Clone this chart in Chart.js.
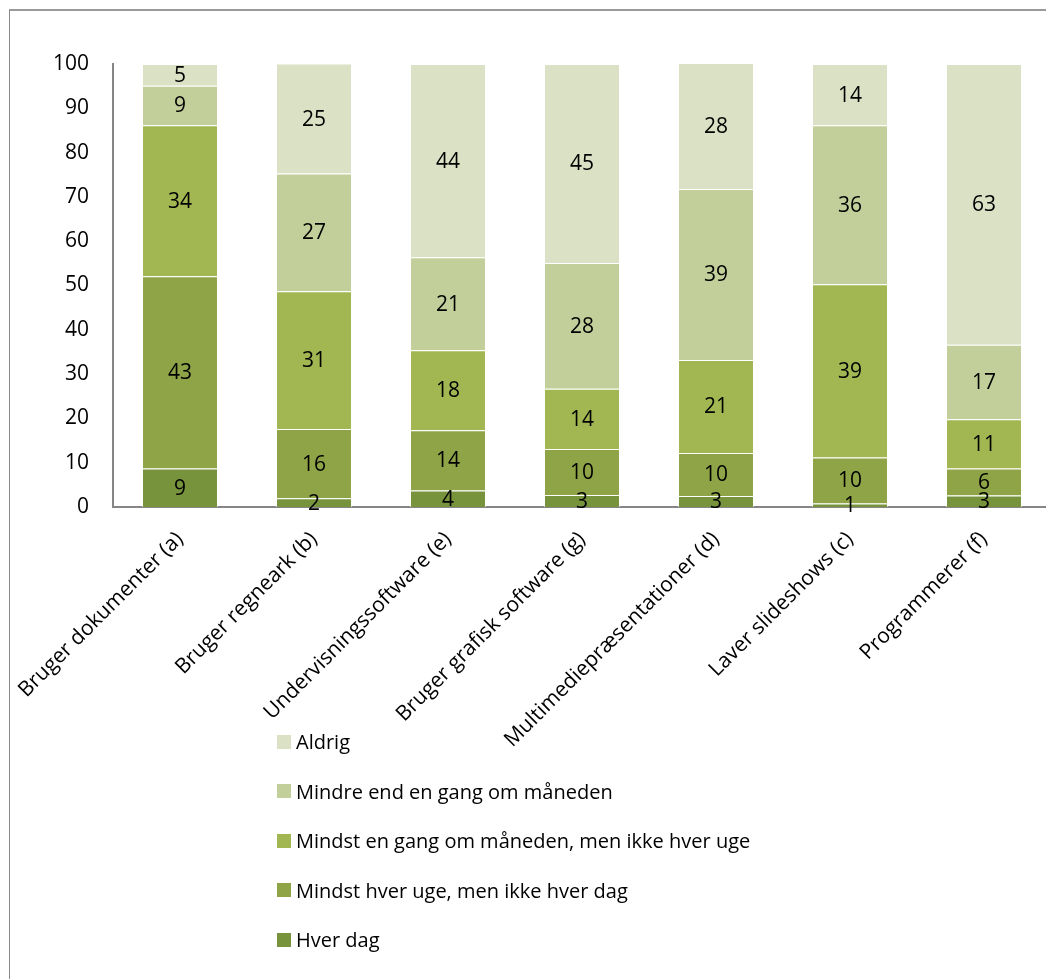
<!DOCTYPE html>
<html>
<head>
<meta charset="utf-8">
<script src="https://cdn.jsdelivr.net/npm/chart.js@4.4.0/dist/chart.umd.min.js"></script>
<style>
  html, body { margin: 0; padding: 0; background: #fff; overflow: hidden; }
  #wrap { position: relative; width: 1046px; height: 979px; overflow: hidden; }
  #frame { position: absolute; left: 9px; top: 9px; width: 2000px; height: 2000px;
           border-left: 1px solid #8a8a8a; border-top: 2px solid #9a9a9a; }
  #chart { position: absolute; left: 0; top: 0; }
  #legend { position: absolute; left: 277px; top: 717px; font: 20px "Open Sans", sans-serif; color: #000; }
  .leg-item { height: 49.5px; display: flex; align-items: center; }
  .leg-box { width: 14px; height: 14px; margin-right: 5px; }
</style>
</head>
<body>
<div id="wrap">
  <div id="frame"></div>
  <canvas id="chart" width="1060" height="979"></canvas>
  <div id="legend"></div>
</div>
<script>
(() => {
  // Categories (x axis)
  const categories = [
    'Bruger dokumenter (a)', 'Bruger regneark (b)', 'Undervisningssoftware (e)',
    'Bruger grafisk software (g)', 'Multimediepræsentationer (d)',
    'Laver slideshows (c)', 'Programmerer (f)'
  ];

  // Series, bottom to top of the stack
  const seriesNames = [
    'Hver dag',
    'Mindst hver uge, men ikke hver dag',
    'Mindst en gang om måneden, men ikke hver uge',
    'Mindre end en gang om måneden',
    'Aldrig'
  ];
  const hverDag      = [8.7, 2.0, 3.7, 2.7, 2.5, 0.8, 2.6];
  const hverUge      = [43.4, 15.6, 13.6, 10.4, 9.7, 10.4, 6.1];
  const hverMaaned   = [34.1, 31.1, 18.1, 13.6, 21.0, 39.1, 11.1];
  const mindreMaaned = [8.9, 26.6, 21.0, 28.4, 38.6, 35.9, 16.8];
  const aldrig       = [4.9, 24.8, 43.6, 44.9, 28.4, 13.8, 63.4];

  const colors = ['#77933c', '#8fa447', '#a2b652', '#c3cf9a', '#dae1c4'];

  const yTicks = [0, 10, 20, 30, 40, 50, 60, 70, 80, 90, 100];

  const FONT = { family: '"Open Sans", sans-serif', size: 21 };

  // Value labels in the middle of every segment
  const valueLabels = {
    id: 'valueLabels',
    afterDatasetsDraw(chart) {
      const ctx = chart.ctx;
      const area = chart.chartArea;
      ctx.save();
      ctx.font = `${FONT.size}px ${FONT.family}`;
      ctx.fillStyle = '#000';
      ctx.textAlign = 'center';
      ctx.textBaseline = 'middle';
      chart.data.datasets.forEach((ds, i) => {
        chart.getDatasetMeta(i).data.forEach((bar, j) => {
          const top = Math.max(bar.y, area.top);
          const y = (top + bar.base) / 2;
          ctx.fillText(String(Math.round(ds.data[j])), bar.x, y + 1);
        });
      });
      ctx.restore();
    }
  };

  const data = [hverDag, hverUge, hverMaaned, mindreMaaned, aldrig];

  const chart = new Chart(document.getElementById('chart'), {
    type: 'bar',
    data: {
      labels: categories,
      datasets: seriesNames.map((name, i) => ({
        label: name,
        data: data[i],
        backgroundColor: colors[i],
        borderColor: 'rgba(255,255,255,0.55)',
        borderWidth: 1,
        borderSkipped: 'start',
        barPercentage: 0.567,
        categoryPercentage: 1
      }))
    },
    options: {
      responsive: false,
      animation: false,
      devicePixelRatio: 1,
      layout: { padding: { top: 64, right: 9, left: 0, bottom: 0 } },
      plugins: {
        legend: { display: false },
        tooltip: { enabled: false }
      },
      scales: {
        x: {
          stacked: true,
          grid: { display: false, drawTicks: false },
          border: { display: true, color: '#868686', width: 2 },
          ticks: {
            autoSkip: false,
            maxRotation: 45,
            minRotation: 45,
            padding: 20,
            color: '#000',
            font: FONT
          },
          afterFit(scale) {
            scale.height = 472;
            scale.paddingLeft = 0;
            scale.paddingRight = 0;
          }
        },
        y: {
          stacked: true,
          min: 0,
          max: 100,
          grid: { display: false, drawTicks: false },
          border: { display: true, color: '#868686', width: 2 },
          afterBuildTicks(scale) {
            scale.ticks = yTicks.map(v => ({ value: v }));
          },
          ticks: {
            padding: 24,
            color: '#000',
            font: FONT
          },
          afterFit(scale) {
            scale.width = 113;
          }
        }
      }
    },
    plugins: [valueLabels]
  });

  // Legend, top of the stack first
  const legend = document.getElementById('legend');
  chart.data.datasets.slice().reverse().forEach(ds => {
    const item = document.createElement('div');
    item.className = 'leg-item';
    item.innerHTML = `<span class="leg-box" style="background:${ds.backgroundColor}"></span><span>${ds.label}</span>`;
    legend.appendChild(item);
  });
})();
</script>
</body>
</html>
